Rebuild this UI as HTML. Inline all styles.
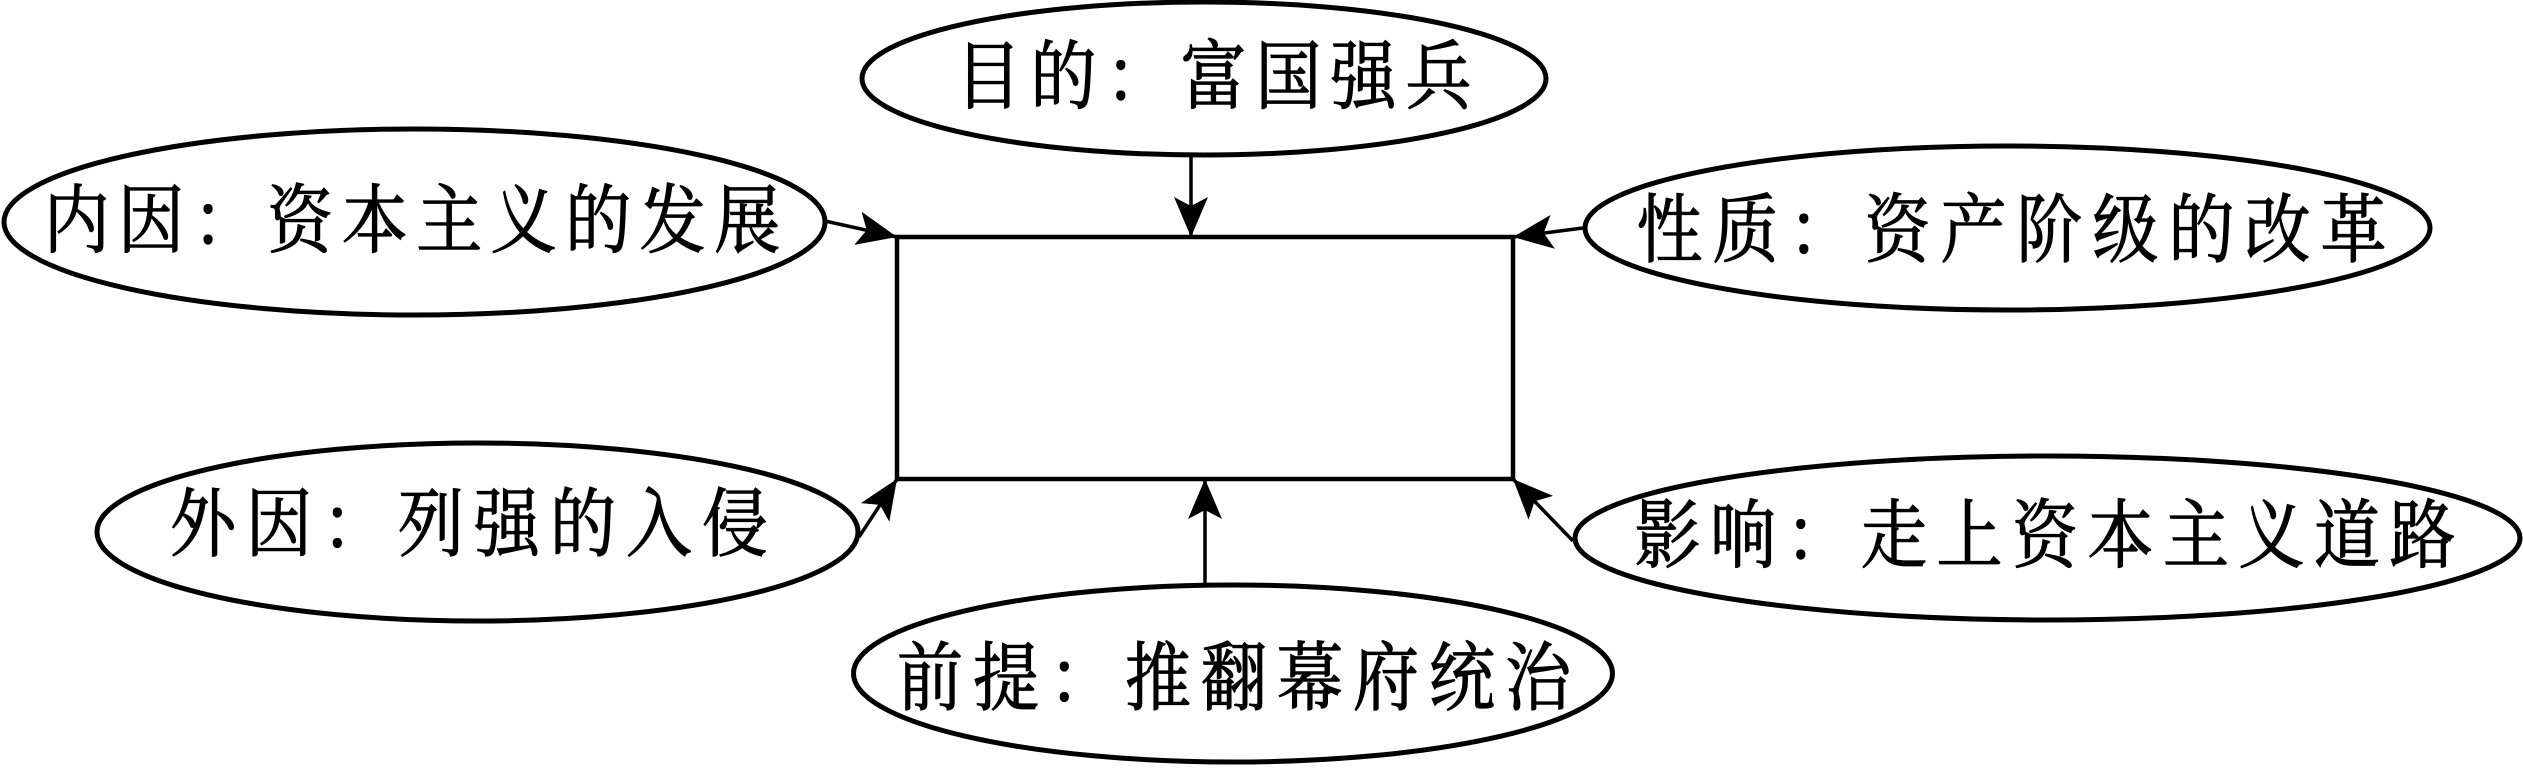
<!DOCTYPE html>
<html>
<head>
<meta charset="utf-8">
<style>
html,body{margin:0;padding:0;background:#fff;}
svg{display:block;}
text{font-family:"Liberation Serif","Noto Serif CJK SC","Noto Sans CJK SC",serif;font-size:75px;fill:#000;stroke:#000;stroke-width:1.2px;text-anchor:middle;}
</style>
</head>
<body>
<svg width="2523" height="769" viewBox="0 0 2523 769" xmlns="http://www.w3.org/2000/svg">
<defs>
<marker id="ah" markerUnits="userSpaceOnUse" markerWidth="42" markerHeight="36" refX="40" refY="17" orient="auto" overflow="visible">
<path d="M0,0 L40,17 L0,34 L9,17 z" fill="#000"/>
</marker>
</defs>
<rect x="0" y="0" width="2523" height="769" fill="#fff"/>

<!-- central rectangle -->
<rect x="897" y="237" width="616" height="242" fill="none" stroke="#000" stroke-width="4.5"/>

<!-- ellipses -->
<g fill="none" stroke="#000" stroke-width="5">
<ellipse cx="1204" cy="78.5" rx="342" ry="76.5"/>
<ellipse cx="414.5" cy="222" rx="410.5" ry="93"/>
<ellipse cx="2007.5" cy="228" rx="422.5" ry="82"/>
<ellipse cx="477.5" cy="532" rx="380.5" ry="89"/>
<ellipse cx="1233" cy="673.5" rx="379.5" ry="88.5"/>
<ellipse cx="2047.5" cy="538" rx="472.5" ry="82"/>
</g>

<!-- connectors -->
<g stroke="#000" stroke-width="3.5" fill="none" marker-end="url(#ah)">
<line x1="1191" y1="157" x2="1191" y2="237"/>
<line x1="825" y1="221" x2="897" y2="237"/>
<line x1="1583" y1="228" x2="1513" y2="237"/>
<line x1="859" y1="537" x2="897" y2="479"/>
<line x1="1205" y1="583" x2="1205" y2="479"/>
<line x1="1573" y1="541" x2="1513" y2="479"/>
</g>

<!-- labels -->
<g transform="scale(0.88 1)">
<text x="1123.3 1208.5 1293.75 1379.0 1464.2 1549.4 1634.7" y="102.5">目的：富国强兵</text>
<text x="87.2 171.8 256.5 341.1 425.8 510.5 595.1 679.8 764.4 849.1" y="246.5">内因：资本主义的发展</text>
<text x="1897.2 1983.5 2069.9 2156.25 2242.6 2329.0 2415.3 2501.7 2588.1 2674.4" y="256">性质：资产阶级的改革</text>
<text x="230.7 317.0 403.4 489.8 576.1 662.5 748.9 835.2" y="550">外因：列强的入侵</text>
<text x="1056.8 1143.2 1229.5 1315.9 1402.3 1488.6 1575.0 1661.4 1747.7" y="704">前提：推翻幕府统治</text>
<text x="1894.9 1980.7 2066.5 2152.3 2238.1 2323.9 2409.7 2495.5 2581.25 2667.0 2752.8" y="561.5">影响：走上资本主义道路</text>
</g>
</svg>
</body>
</html>
